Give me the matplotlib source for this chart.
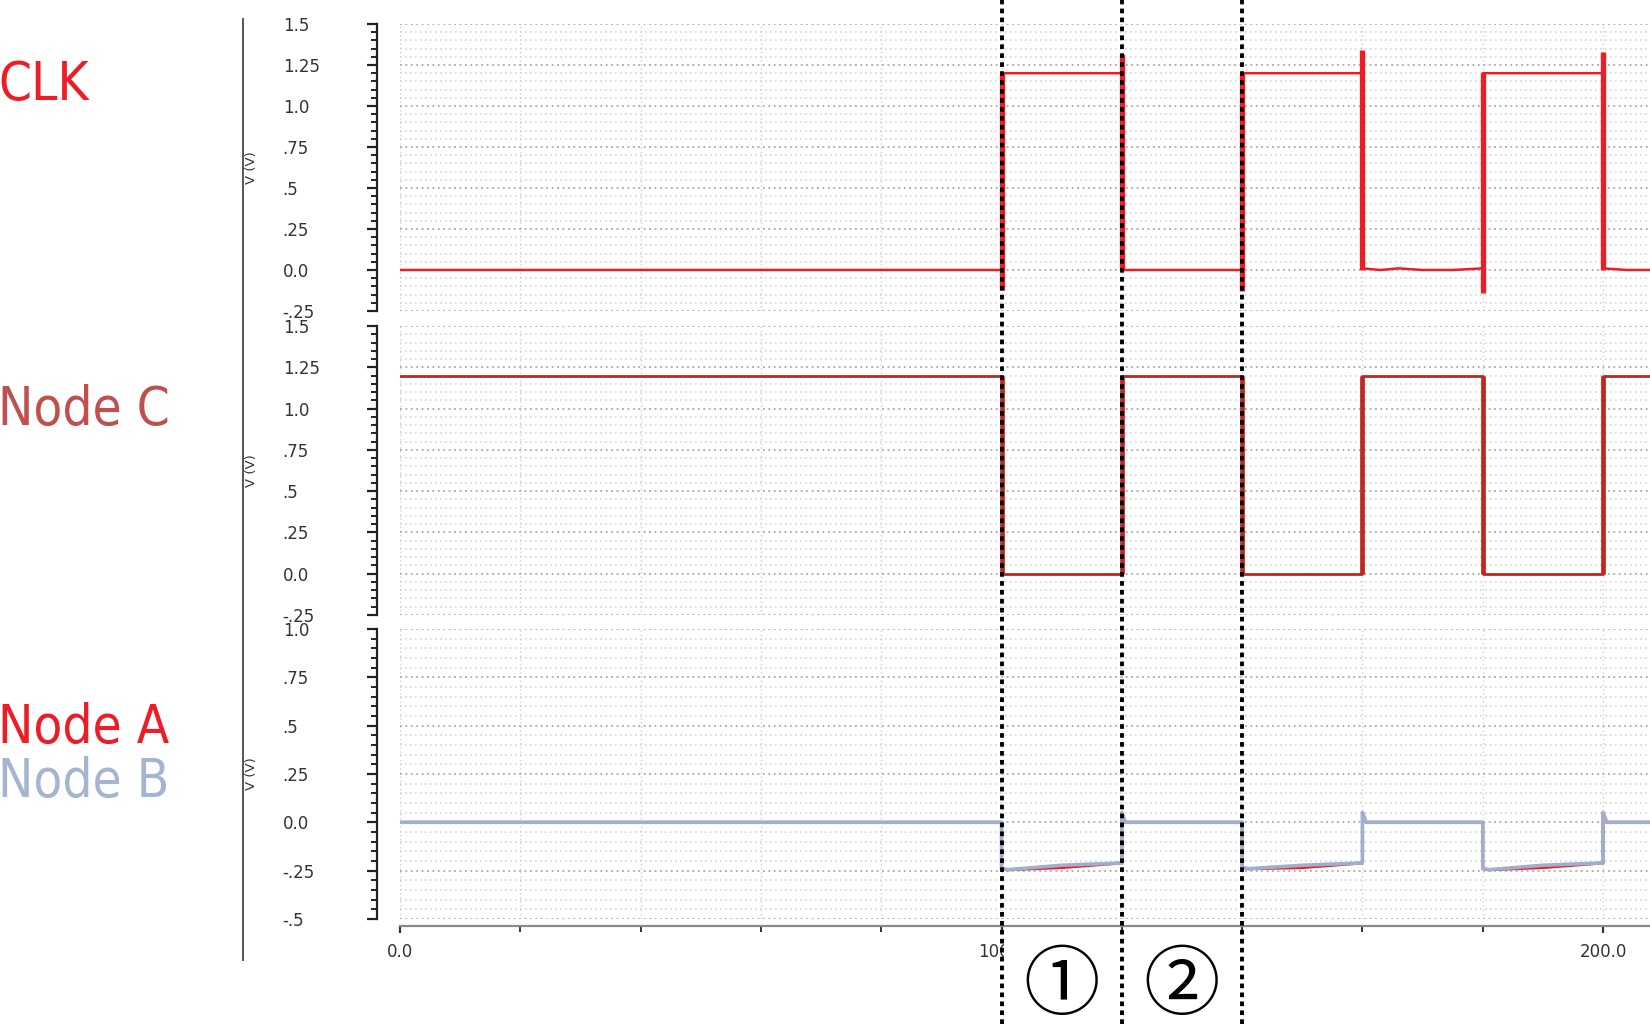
import matplotlib
matplotlib.use("Agg")
import matplotlib.pyplot as plt
from matplotlib.ticker import FixedLocator, FixedFormatter, MultipleLocator, NullFormatter
from matplotlib.lines import Line2D
from matplotlib.patches import Rectangle
from matplotlib.transforms import blended_transform_factory

# ---- data (time in ns, voltage in V) ----
clk_t = [0, 100, 100, 120, 120, 140, 140, 160, 160, 163, 166, 170, 175, 180, 180, 200, 200, 204, 208]
clk_v = [0.0, 0.0, 1.2, 1.2, 0.0, 0.0, 1.2, 1.2, 0.01, 0.0, 0.01, 0.0, 0.0, 0.01, 1.2, 1.2, 0.01, 0.0, 0.0]
clk_edge_t = [100, 120, 140, 160, 180, 200]
clk_edge_lo = [-0.12, 0.0, -0.13, 0.0, -0.14, 0.0]
clk_edge_hi = [1.2, 1.32, 1.2, 1.34, 1.2, 1.33]

nodec_t = [0, 100, 100, 120, 120, 140, 140, 160, 160, 180, 180, 200, 200, 208]
nodec_v = [1.2, 1.2, 0.0, 0.0, 1.2, 1.2, 0.0, 0.0, 1.2, 1.2, 0.0, 0.0, 1.2, 1.2]
nodec_edge_t = [100, 120, 140, 160, 180, 200]

nodeb_t = [0, 100, 100, 101, 110, 120, 120, 120.6, 140, 140, 141, 150, 160, 160, 160.6,
           180, 180, 181, 190, 200, 200, 200.6, 208]
nodeb_v = [0.0, 0.0, -0.24, -0.245, -0.222, -0.21, 0.05, 0.0, 0.0, -0.235, -0.24, -0.222, -0.21, 0.05, 0.0,
           0.0, -0.24, -0.245, -0.222, -0.21, 0.05, 0.0, 0.0]
nodea_t = nodeb_t
nodea_v = [0.0, 0.0, -0.24, -0.245, -0.234, -0.21, 0.05, 0.0, 0.0, -0.235, -0.24, -0.234, -0.21, 0.05, 0.0,
           0.0, -0.24, -0.245, -0.234, -0.21, 0.05, 0.0, 0.0]

top_ticks = [-0.25, 0.0, 0.25, 0.5, 0.75, 1.0, 1.25, 1.5]
top_labels = ["-.25", "0.0", ".25", ".5", ".75", "1.0", "1.25", "1.5"]
bot_ticks = [-0.5, -0.25, 0.0, 0.25, 0.5, 0.75, 1.0]
bot_labels = ["-.5", "-.25", "0.0", ".25", ".5", ".75", "1.0"]
x_ticks = [0, 100, 200]
x_labels = ["0.0", "100.0", "200.0"]
marker_t = [100, 120, 140]
signal_names = ["CLK", "Node C", "Node A", "Node B"]
phase_labels = ["\u2460", "\u2461"]

W, H = 1650, 1024
fig = plt.figure(figsize=(W / 100, H / 100), dpi=100)

def px(x0, top, x1, bottom):
    return [x0 / W, 1 - bottom / H, (x1 - x0) / W, (bottom - top) / H]

ax1 = fig.add_axes(px(400, 24, 1650, 311))
ax2 = fig.add_axes(px(400, 326, 1650, 615))
ax3 = fig.add_axes(px(400, 629, 1650, 919))

clk_col = "#ee1c25"
nodec_col = "#c0281f"
nodea_col = "#ee1c25"
nodeb_col = "#9fb0cc"

for ax, ticks, labels, ylim in [(ax1, top_ticks, top_labels, (-0.25, 1.5)),
                                (ax2, top_ticks, top_labels, (-0.25, 1.5)),
                                (ax3, bot_ticks, bot_labels, (-0.5, 1.0))]:
    ax.set_xlim(0, 207.8)
    ax.set_ylim(*ylim)
    for s in ["top", "right"]:
        ax.spines[s].set_visible(False)
    ax.spines["left"].set_position(("outward", 16.5))
    ax.spines["left"].set_color("#222222")
    ax.spines["left"].set_linewidth(1.6)
    ax.yaxis.set_major_locator(FixedLocator(ticks))
    ax.yaxis.set_major_formatter(FixedFormatter(labels))
    ax.yaxis.set_minor_locator(MultipleLocator(0.05))
    ax.tick_params(axis="y", which="major", length=7, width=1.6, color="#222222",
                   pad=61, labelsize=12, labelcolor="#333333")
    ax.tick_params(axis="y", which="minor", length=4.5, width=1.4, color="#222222")
    for lab in ax.get_yticklabels():
        lab.set_horizontalalignment("left")
    ax.xaxis.set_major_locator(FixedLocator(x_ticks))
    ax.xaxis.set_minor_locator(MultipleLocator(20))
    ax.grid(True, axis="y", which="minor", linestyle=(0, (1, 2)), color="#d6d6d6", linewidth=1.2)
    ax.grid(True, axis="y", which="major", linestyle=(0, (1, 2)), color="#a8a8a8", linewidth=1.3)
    ax.grid(True, axis="x", which="both", linestyle=(0, (1, 2)), color="#d0d0d0", linewidth=1.0)
    ax.set_axisbelow(True)
    ax.set_ylabel("V (V)", fontsize=9.5, color="#333333")
    ax.yaxis.set_label_coords(-0.1136, 0.5)

for ax in (ax1, ax2):
    ax.spines["bottom"].set_visible(False)
    ax.tick_params(axis="x", which="both", length=0, labelbottom=False)

ax3.spines["bottom"].set_position(("outward", 5))
ax3.spines["bottom"].set_color("#8a8a8a")
ax3.spines["bottom"].set_linewidth(1.6)
ax3.xaxis.set_major_formatter(FixedFormatter(x_labels))
ax3.xaxis.set_minor_formatter(NullFormatter())
ax3.tick_params(axis="x", which="major", length=5, width=1.6, color="#333333",
                pad=7, labelsize=12, labelcolor="#333333")
ax3.tick_params(axis="x", which="minor", length=4, width=1.4, color="#333333")

# signals
ax1.plot(clk_t, clk_v, color=clk_col, lw=1.8, zorder=3)
ax1.vlines(clk_edge_t, clk_edge_lo, clk_edge_hi, color=clk_col, lw=3.8, zorder=3)
ax2.plot(nodec_t, nodec_v, color=nodec_col, lw=2.0, zorder=3)
ax2.vlines(nodec_edge_t, [min(nodec_v)] * len(nodec_edge_t), [max(nodec_v)] * len(nodec_edge_t),
           color=nodec_col, lw=3.4, zorder=3)
ax3.plot(nodea_t, nodea_v, color=nodea_col, lw=2.2, zorder=3)
ax3.plot(nodeb_t, nodeb_v, color=nodeb_col, lw=2.6, zorder=4)

# white patch under the phase numbers (hides part of the 100.0 label)
fig.add_artist(Rectangle((1004 / W, 0), 111 / W, 89 / H, transform=fig.transFigure,
                         facecolor="white", edgecolor="none", zorder=2))

# dotted phase markers across the whole figure
trans = blended_transform_factory(ax3.transData, fig.transFigure)
for t in marker_t:
    fig.add_artist(Line2D([t, t], [0, 1], transform=trans, color="black", lw=2.8,
                          linestyle=(0, (1.2, 1.1)), zorder=5))

# phase numbers
for i, lab in enumerate(phase_labels):
    xc = (marker_t[i] + marker_t[i + 1]) / 2
    fig.text(xc, 1 - 987 / H, lab, transform=trans, ha="center", va="center", fontsize=55,
             family=["Noto Sans CJK JP", "DejaVu Sans"], color="black", zorder=6)

# left vertical separator
fig.add_artist(Line2D([243 / W, 243 / W], [1 - 19 / H, 1 - 960 / H], transform=fig.transFigure,
                      color="#555555", lw=1.4))

# signal names
name_cols = [clk_col, "#c0504d", nodea_col, "#a5b5cf"]
name_base = [100, 425, 743, 797]
for name, col, yb in zip(signal_names, name_cols, name_base):
    fig.text(-0.001, 1 - yb / H, name, ha="left", va="baseline", fontsize=38, color=col,
             family="DejaVu Sans", fontstretch="condensed")

fig.savefig("out.png", dpi=100)
